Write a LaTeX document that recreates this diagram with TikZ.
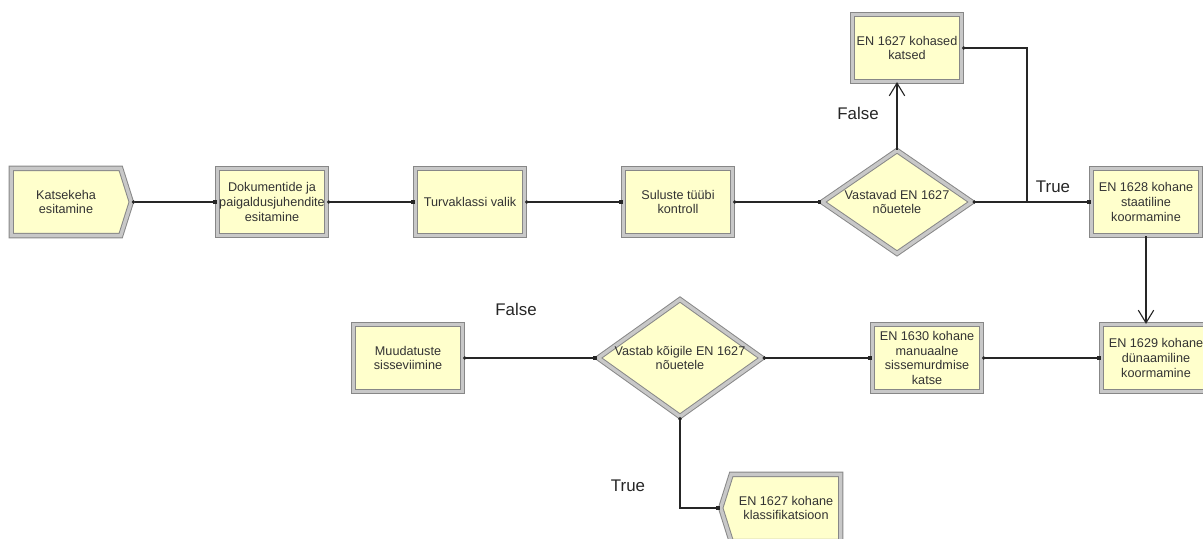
\documentclass[tikz,border=0pt]{standalone}
\usepackage{fontspec}
\setmainfont{Liberation Sans}
\usepackage{tikz}
\usetikzlibrary{positioning}
\usetikzlibrary{arrows.meta}
\usetikzlibrary{shapes.geometric,shapes.symbols}
\definecolor{kollane}{RGB}{255,255,204}
\definecolor{serv}{RGB}{135,135,135}
\definecolor{servsees}{RGB}{200,200,200}
\tikzset{
  plokk_n/.style = {align=center, inner sep=1pt, text=black!80,
    font=\fontsize{9}{10.5}\selectfont},
  plokk_r/.style = {plokk_n, rectangle, fill=kollane, draw=serv, line width=0.7pt,
    double=servsees, double distance=2.4pt,
    minimum width=2.73cm, minimum height=1.68cm},% protsess
  plokk_d/.style = {plokk_r, diamond, inner sep=0pt},% otsus
  plokk_a/.style = {plokk_r, signal, signal to=east, signal pointer angle=145,
    minimum width=3.0cm},% algus
  plokk_l/.style = {plokk_r, signal, signal to=west, signal pointer angle=145,
    minimum width=3.0cm},% lopp
  silt/.style = {font=\fontsize{12}{14}\selectfont, text=black!85},
  yhend/.style = {draw=black!85, line width=0.8pt,
    arrows={Circle[length=2.4pt]-Square[length=2.8pt]}},
  yhend_a/.style = {draw=black!85, line width=0.8pt, arrows={Circle[length=2.4pt]-}},
  nool/.style = {draw=black!85, line width=0.8pt,
    arrows={-Straight Barb[length=9pt,width=11pt]}},
}

\begin{document}
\begin{tikzpicture}[x=0.025cm, y=-0.025cm]
\useasboundingbox (0,0) rectangle (1203,539);
% ylemine rida
\node [plokk_a] (k_1) at (66,202) {Katsekeha\\esitamine};
\node [plokk_r] (k_2) at (272,202) {Dokumentide ja\\paigaldusjuhendite\\esitamine};
\node [plokk_r] (k_3) at (470,202) {Turvaklassi valik};
\node [plokk_r] (k_4) at (678,202) {Suluste tüübi\\kontroll};
\node [plokk_d, aspect=1.43, minimum width=3.75cm, minimum height=2.58cm] (d_1) at (897,202) {Vastavad EN 1627\\nõuetele};
\node [plokk_r] (k_27) at (907,48) {EN 1627 kohased\\katsed};
\node [plokk_r] (k_28) at (1146,202) {EN 1628 kohane\\staatiline\\koormamine};
\coordinate (jn) at (1027,202);
% alumine rida
\node [plokk_r] (k_29) at (1156,358) {EN 1629 kohane\\dünaamiline\\koormamine};
\node [plokk_r] (k_30) at (927,358) {EN 1630 kohane\\manuaalne\\sissemurdmise\\katse};
\node [plokk_d, aspect=1.4, minimum width=3.63cm, minimum height=2.55cm] (d_2) at (680,358) {Vastab kõigile EN 1627\\nõuetele};
\node [plokk_r] (k_m) at (408,358) {Muudatuste\\sisseviimine};
\node [plokk_l] (k_kl) at (786,508) {EN 1627 kohane\\klassifikatsioon};
% sildid
\node [silt] (t_1) at (858,113) {False};
\node [silt] (t_2) at (1053,187) {True};
\node [silt] (t_3) at (516,309) {False};
\node [silt] (t_4) at (628,486) {True};
% yhendused
\draw [yhend] (k_1.east) -- (k_2.west);
\draw [yhend] (k_2.east) -- (k_3.west);
\draw [yhend] (k_3.east) -- (k_4.west);
\draw [yhend] (k_4.east) -- (d_1.west);
\draw [yhend] (d_1.east) -- (k_28.west);
\draw [yhend_a] (k_27.east) -| (jn);
\draw [nool] (d_1.north) -- (d_1.north |- k_27.south);
\draw [nool] (k_28.south) -- (k_28.south |- k_29.north);
\draw [yhend] (k_30.east) -- (k_29.west);
\draw [yhend] (d_2.east) -- (k_30.west);
\draw [yhend] (k_m.east) -- (d_2.west);
\draw [yhend] (d_2.south) |- (k_kl.west);
\end{tikzpicture}
\end{document}
